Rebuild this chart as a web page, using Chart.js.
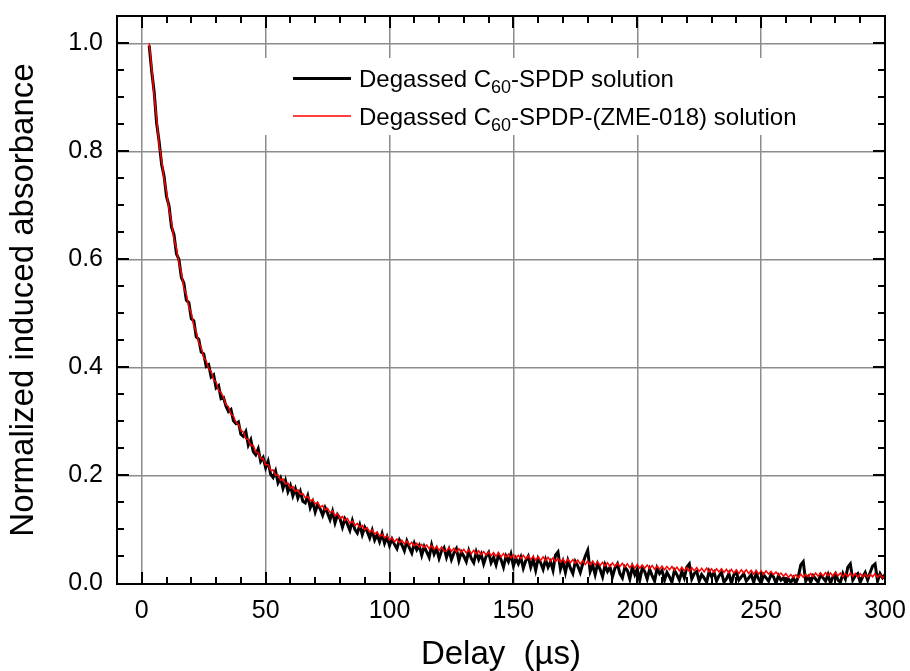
<!DOCTYPE html>
<html lang="en">
<head>
<meta charset="UTF-8">
<script src="https://cdn.jsdelivr.net/npm/chart.js@4.4.0/dist/chart.umd.min.js"></script>
<title>Induced absorbance decay</title>
<style>
  html, body { margin: 0; padding: 0; background: #fff; }
  #wrap { width: 910px; height: 671px; }
</style>
</head>
<body>
<div id="wrap"><canvas id="c"></canvas></div>
<script>
// delay (µs)
const delays = [
  3,4,5,6,7,8,9,10,11,12,
  13,14,15,16,17,18,19,20,21,22,
  23,24,25,26,27,28,29,30,31,32,
  33,34,35,36,37,38,39,40,41,42,
  43,44,45,46,47,48,49,50,51,52,
  53,54,55,56,57,58,59,60,61,62,
  63,64,65,66,67,68,69,70,71,72,
  73,74,75,76,77,78,79,80,81,82,
  83,84,85,86,87,88,89,90,91,92,
  93,94,95,96,97,98,99,100,101,102,
  103,104,105,106,107,108,109,110,111,112,
  113,114,115,116,117,118,119,120,121,122,
  123,124,125,126,127,128,129,130,131,132,
  133,134,135,136,137,138,139,140,141,142,
  143,144,145,146,147,148,149,150,151,152,
  153,154,155,156,157,158,159,160,161,162,
  163,164,165,166,167,168,169,170,171,172,
  173,174,175,176,177,178,179,180,181,182,
  183,184,185,186,187,188,189,190,191,192,
  193,194,195,196,197,198,199,200,201,202,
  203,204,205,206,207,208,209,210,211,212,
  213,214,215,216,217,218,219,220,221,222,
  223,224,225,226,227,228,229,230,231,232,
  233,234,235,236,237,238,239,240,241,242,
  243,244,245,246,247,248,249,250,251,252,
  253,254,255,256,257,258,259,260,261,262,
  263,264,265,266,267,268,269,270,271,272,
  273,274,275,276,277,278,279,280,281,282,
  283,284,285,286,287,288,289,290,291,292,
  293,294,295,296,297,298,299,300
];

// Degassed C60-SPDP solution (black)
const spdp = [
  0.996,0.948,0.910,0.852,0.818,0.776,0.754,0.716,0.699,0.660,
  0.646,0.610,0.600,0.566,0.556,0.524,0.520,0.490,0.486,0.456,
  0.452,0.428,0.425,0.402,0.405,0.382,0.386,0.362,0.366,0.342,
  0.344,0.328,0.318,0.322,0.301,0.296,0.299,0.276,0.272,0.281,
  0.256,0.266,0.244,0.238,0.249,0.226,0.233,0.214,0.226,0.202,
  0.196,0.208,0.186,0.195,0.176,0.190,0.170,0.181,0.162,0.175,
  0.158,0.170,0.152,0.149,0.162,0.140,0.151,0.132,0.146,0.138,
  0.126,0.140,0.130,0.118,0.133,0.112,0.127,0.120,0.104,0.119,
  0.110,0.098,0.116,0.100,0.093,0.108,0.090,0.104,0.096,0.084,
  0.098,0.080,0.090,0.077,0.092,0.074,0.086,0.070,0.082,0.072,
  0.064,0.080,0.071,0.060,0.078,0.066,0.056,0.074,0.062,0.070,
  0.052,0.068,0.058,0.048,0.071,0.054,0.064,0.046,0.060,0.066,
  0.048,0.062,0.044,0.056,0.064,0.042,0.058,0.050,0.040,0.060,
  0.046,0.038,0.058,0.044,0.054,0.036,0.050,0.057,0.038,0.048,
  0.034,0.052,0.044,0.030,0.050,0.040,0.054,0.032,0.046,0.036,
  0.048,0.028,0.042,0.050,0.030,0.044,0.024,0.046,0.038,0.026,
  0.044,0.030,0.040,0.024,0.052,0.058,0.026,0.040,0.020,0.042,
  0.028,0.018,0.040,0.032,0.020,0.036,0.050,0.061,0.022,0.034,
  0.016,0.036,0.026,0.012,0.034,0.022,0.030,0.012,0.028,0.036,
  0.018,0.010,0.030,0.024,0.008,0.030,0.016,0.026,0.006,0.028,
  0.022,0.008,0.026,0.014,0.004,0.028,0.018,0.024,0.006,0.020,
  0.012,0.002,0.024,0.016,0.006,0.022,0.010,0.030,0.036,0.008,
  0.018,0.022,0.004,0.016,0.010,0.002,0.022,0.012,0.020,0.004,
  0.014,0.020,0.002,0.008,0.018,0.000,0.016,0.020,0.006,0.012,
  0.018,0.004,0.010,0.016,0.002,0.018,0.008,0.000,0.016,0.010,
  0.004,0.016,0.012,0.000,0.014,0.006,0.010,0.000,0.008,0.002,
  0.010,0.000,0.012,0.034,0.040,0.004,0.012,0.002,0.014,0.008,
  0.002,0.016,0.010,0.004,0.016,0.000,0.012,0.018,0.006,0.002,
  0.018,0.008,0.030,0.036,0.006,0.014,0.018,0.002,0.012,0.020,
  0.006,0.020,0.032,0.036,0.004,0.018,0.010,0.016
];

// Degassed C60-SPDP-(ZME-018) solution (red)
const spdpZme = [
  1.000,0.955,0.902,0.861,0.812,0.785,0.748,0.725,0.692,0.670,
  0.637,0.620,0.593,0.575,0.547,0.535,0.512,0.500,0.478,0.466,
  0.445,0.437,0.418,0.412,0.397,0.393,0.377,0.373,0.357,0.354,
  0.344,0.331,0.327,0.313,0.310,0.298,0.294,0.283,0.280,0.268,
  0.266,0.255,0.255,0.243,0.242,0.231,0.231,0.219,0.220,0.209,
  0.210,0.200,0.201,0.191,0.193,0.184,0.186,0.176,0.179,0.170,
  0.173,0.165,0.166,0.158,0.161,0.153,0.155,0.147,0.150,0.141,
  0.144,0.136,0.139,0.131,0.134,0.125,0.129,0.120,0.124,0.116,
  0.120,0.111,0.115,0.107,0.111,0.103,0.107,0.099,0.103,0.095,
  0.099,0.091,0.095,0.087,0.091,0.084,0.088,0.080,0.084,0.077,
  0.082,0.075,0.080,0.073,0.078,0.071,0.076,0.069,0.074,0.067,
  0.072,0.066,0.071,0.064,0.070,0.063,0.068,0.061,0.067,0.060,
  0.060,0.066,0.059,0.065,0.058,0.064,0.057,0.063,0.056,0.062,
  0.055,0.061,0.054,0.060,0.053,0.059,0.052,0.058,0.051,0.057,
  0.050,0.057,0.049,0.055,0.048,0.054,0.047,0.053,0.046,0.052,
  0.046,0.052,0.045,0.051,0.044,0.050,0.043,0.049,0.042,0.049,
  0.042,0.048,0.041,0.047,0.040,0.046,0.039,0.045,0.038,0.045,
  0.038,0.044,0.037,0.043,0.036,0.042,0.035,0.041,0.034,0.041,
  0.034,0.040,0.033,0.039,0.032,0.038,0.031,0.038,0.031,0.037,
  0.031,0.037,0.030,0.036,0.029,0.035,0.028,0.035,0.028,0.034,
  0.028,0.034,0.027,0.033,0.026,0.032,0.026,0.032,0.025,0.031,
  0.025,0.031,0.024,0.030,0.023,0.030,0.023,0.029,0.022,0.029,
  0.023,0.029,0.022,0.028,0.021,0.028,0.021,0.027,0.020,0.027,
  0.021,0.027,0.020,0.026,0.019,0.026,0.019,0.025,0.018,0.025,
  0.019,0.025,0.018,0.024,0.017,0.024,0.017,0.023,0.016,0.023,
  0.017,0.022,0.016,0.021,0.015,0.019,0.013,0.018,0.011,0.016,
  0.011,0.016,0.010,0.017,0.011,0.016,0.012,0.018,0.012,0.019,
  0.013,0.019,0.013,0.020,0.014,0.019,0.013,0.020,0.014,0.019,
  0.012,0.018,0.012,0.019,0.013,0.018,0.011,0.018,0.012,0.017,
  0.011,0.017,0.012,0.018,0.011,0.016,0.010,0.015
];

const seriesNames = ['Degassed C_60-SPDP solution', 'Degassed C_60-SPDP-(ZME-018) solution'];
const xTicks = [0, 50, 100, 150, 200, 250, 300];
const yTicks = [0, 0.2, 0.4, 0.6, 0.8, 1.0];

const FONT = "'Liberation Sans', Arial, sans-serif";

function toPoints(ys) {
  return delays.map((d, i) => ({ x: d, y: ys[i] }));
}

function noEdgePadding(s) {
  s.paddingLeft = 0; s.paddingRight = 0; s.paddingTop = 0; s.paddingBottom = 0;
}

// frame with inward major/minor ticks on all four sides
const frameTicks = {
  id: 'frameTicks',
  afterDraw(chart) {
    const ctx = chart.ctx, a = chart.chartArea;
    const xs = chart.scales.x, ys = chart.scales.y;
    ctx.save();
    ctx.strokeStyle = '#000';
    ctx.lineWidth = 2;
    ctx.beginPath();
    const tickX = (v, len) => {
      const p = Math.round(xs.getPixelForValue(v));
      ctx.moveTo(p, a.bottom); ctx.lineTo(p, a.bottom - len);
      ctx.moveTo(p, a.top); ctx.lineTo(p, a.top + len);
    };
    const tickY = (v, len) => {
      const p = Math.round(ys.getPixelForValue(v));
      ctx.moveTo(a.left, p); ctx.lineTo(a.left + len, p);
      ctx.moveTo(a.right, p); ctx.lineTo(a.right - len, p);
    };
    for (let v = 0; v <= 300; v += 10) tickX(v, v % 50 === 0 ? 12 : 7);
    for (let k = 1; k <= 20; k++) tickY(k * 0.05, k % 4 === 0 ? 12 : 7);
    ctx.stroke();
    ctx.strokeRect(a.left, a.top, a.right - a.left, a.bottom - a.top);
    ctx.restore();
  }
};

// legend drawn inside the plot, with subscripted "60"
const insideLegend = {
  id: 'insideLegend',
  afterDatasetsDraw(chart) {
    const ctx = chart.ctx;
    ctx.save();
    ctx.fillStyle = '#fff';
    ctx.fillRect(258, 58, 582, 77);
    chart.data.datasets.forEach((ds, i) => {
      const y = 78.5 + i * 37.5;
      ctx.strokeStyle = ds.borderColor;
      ctx.lineWidth = i === 0 ? 3 : 1.5;
      ctx.beginPath();
      ctx.moveTo(293, y); ctx.lineTo(351, y);
      ctx.stroke();
      ctx.fillStyle = '#000';
      ctx.textBaseline = 'alphabetic';
      let x = 359;
      const base = y + 8.5;
      ds.label.split(/_(\d+)/).forEach((part, j) => {
        if (!part) return;
        if (j % 2 === 1) {
          ctx.font = '18px ' + FONT;
          ctx.fillText(part, x, base + 6);
        } else {
          ctx.font = '24px ' + FONT;
          ctx.fillText(part, x, base);
        }
        x += ctx.measureText(part).width;
      });
    });
    ctx.restore();
  }
};

new Chart(document.getElementById('c'), {
  type: 'scatter',
  data: {
    datasets: [
      { label: seriesNames[0], data: toPoints(spdp), showLine: true, borderColor: '#000000',
        borderWidth: 3, pointRadius: 0, order: 2 },
      { label: seriesNames[1], data: toPoints(spdpZme), showLine: true, borderColor: '#ff0000',
        borderWidth: 1.5, pointRadius: 0, order: 1 }
    ]
  },
  options: {
    responsive: true,
    maintainAspectRatio: false,
    animation: false,
    layout: { padding: { top: 16, right: 25, left: 0, bottom: 0 } },
    plugins: { legend: { display: false }, tooltip: { enabled: false } },
    scales: {
      x: {
        type: 'linear', min: -10, max: 300,
        afterBuildTicks: s => { s.ticks = xTicks.map(v => ({ value: v })); },
        afterFit: s => { s.height = 87; noEdgePadding(s); },
        grid: { color: '#8c8c8c', lineWidth: 1.5, drawTicks: false },
        border: { display: false },
        ticks: { color: '#000', font: { family: FONT, size: 25 }, padding: 12, maxRotation: 0 },
        title: { display: true, text: 'Delay  (\u00b5s)', color: '#000',
                 font: { family: FONT, size: 33, lineHeight: 1 }, padding: { top: 0, bottom: 0 } }
      },
      y: {
        type: 'linear', min: -0.0013, max: 1.0506,
        afterBuildTicks: s => { s.ticks = yTicks.map(v => ({ value: v })); },
        afterFit: s => { s.width = 117; noEdgePadding(s); },
        grid: { color: '#8c8c8c', lineWidth: 1.5, drawTicks: false },
        border: { display: false },
        ticks: { color: '#000', font: { family: FONT, size: 25 }, padding: 14,
                 callback: v => v.toFixed(1) },
        title: { display: true, text: 'Normalized induced absorbance', color: '#000',
                 font: { family: FONT, size: 33, lineHeight: 1 }, padding: { top: 7, bottom: 0 } }
      }
    }
  },
  plugins: [insideLegend, frameTicks]
});
</script>
</body>
</html>
